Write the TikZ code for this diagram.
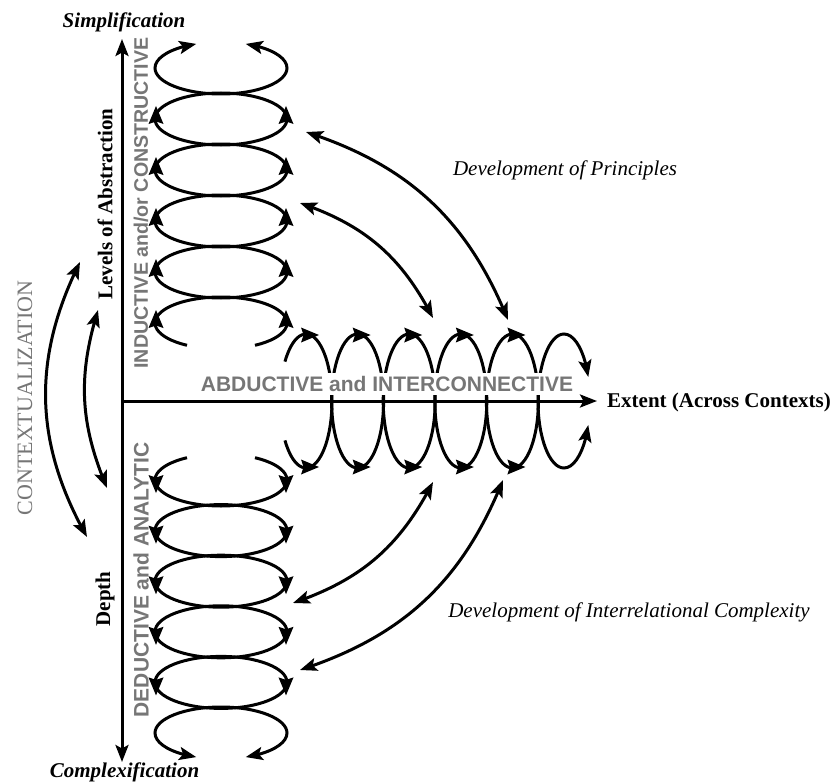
\documentclass[tikz,border=0pt]{standalone}
\usepackage{fontspec}
\setmainfont{Liberation Serif}
\setsansfont{Liberation Sans}
\usetikzlibrary{arrows.meta,bending,calc}
\definecolor{labelgray}{RGB}{118,118,118}

% one arc of an elliptic loop: centre x, centre y, x radius, y radius, start, end, options
\newcommand\spiralarc[7]{%
  \draw[spir,#7] ($(#1,#2)+(#5:#3 and #4)$)
    arc[start angle=#5,end angle=#6,x radius=#3,y radius=#4];}

\begin{document}
\begin{tikzpicture}[x=1pt,y=-1pt,
  >={Stealth[length=17pt,width=13pt,inset=3.5pt]},
  font=\fontsize{21}{25}\selectfont,
  spir/.style={line width=3pt},
  tipup/.pic={\fill (0pt,13pt) -- (7.5pt,-5pt) -- (0pt,-2.5pt) -- (-7.5pt,-5pt) -- cycle;},
  tipdown/.pic={\fill (0pt,-13pt) -- (7.5pt,5pt) -- (0pt,2.5pt) -- (-7.5pt,5pt) -- cycle;},
  tipright/.pic={\fill (13pt,0pt) -- (-5pt,7.5pt) -- (-2.5pt,0pt) -- (-5pt,-7.5pt) -- cycle;},
  axisline/.style={line width=3pt},
  swing/.style={line width=3pt,<->},
  axislabel/.style={font=\fontsize{21}{25}\selectfont\bfseries},
  grayserif/.style={text=labelgray,font=\fontsize{22}{26}\selectfont},
  graysans/.style={text=labelgray,font=\fontsize{21}{25}\selectfont\sffamily\bfseries},
  devlabel/.style={font=\fontsize{21}{25}\selectfont\itshape},
]
\useasboundingbox (0,0) rectangle (836,784);

% axes
\coordinate (O) at (122,401);
\coordinate (ytop) at (122,39);
\coordinate (ybot) at (122,762);
\coordinate (xend) at (597,401);
\draw[axisline,<->] (ybot) -- (ytop);
\draw[axisline,->] (O) -- (xend);

% upper spiral (rising)
\spiralarc{221}{68}{66}{26}{90}{248}{->}
\spiralarc{221}{68}{66}{26}{90}{-68}{->}
\foreach \cy in {119,170,221,272}{
  \spiralarc{221}{\cy}{66}{26}{90}{270}{}
  \spiralarc{221}{\cy}{66}{26}{90}{-90}{}
}
\spiralarc{221}{323}{66}{26}{121}{270}{}
\spiralarc{221}{323}{66}{26}{59}{-90}{}
\foreach \cy in {119,170,221,272,323}{
  \pic at (156,\cy) {tipup};
  \pic at (286,\cy) {tipup};
}

% lower spiral (descending)
\spiralarc{221}{480}{66}{26}{239}{90}{}
\spiralarc{221}{480}{66}{26}{-59}{90}{}
\foreach \cy in {530.6,581.2,631.8,682.4}{
  \spiralarc{221}{\cy}{66}{26}{270}{90}{}
  \spiralarc{221}{\cy}{66}{26}{-90}{90}{}
}
\spiralarc{221}{733}{66}{26}{270}{112}{->}
\spiralarc{221}{733}{66}{26}{-90}{68}{->}
\foreach \cy in {480,530.6,581.2,631.8,682.4}{
  \pic at (156,\cy) {tipdown};
  \pic at (286,\cy) {tipdown};
}

% horizontal spiral (spreading)
\spiralarc{306}{401}{26}{67}{216}{360}{}
\spiralarc{306}{401}{26}{67}{144}{0}{}
\foreach \cx in {357.6,409.2,460.8,512.4}{
  \spiralarc{\cx}{401}{26}{67}{180}{360}{}
  \spiralarc{\cx}{401}{26}{67}{180}{0}{}
}
\spiralarc{564}{401}{26}{67}{180}{339}{->}
\spiralarc{564}{401}{26}{67}{180}{21}{->}
\foreach \cx in {306,357.6,409.2,460.8,512.4}{
  \pic at (\cx,335) {tipright};
  \pic at (\cx,467) {tipright};
}

% contextualization swings
\coordinate (ca1) at (80,262);  \coordinate (cb1) at (87,537);
\coordinate (ca2) at (98,310);  \coordinate (cb2) at (107,488);
\draw[swing] (ca1) to[bend right=28] (cb1);
\draw[swing] (ca2) to[bend right=20] (cb2);

% principles swings
\coordinate (ua1) at (306,132); \coordinate (ub1) at (508,320);
\coordinate (ua2) at (300,203); \coordinate (ub2) at (433,318);
\draw[swing] (ua1) to[bend left=25] (ub1);
\draw[swing] (ua2) to[bend left=22] (ub2);

% interrelational swings
\coordinate (la1) at (503,480); \coordinate (lb1) at (300,670);
\coordinate (la2) at (433,482); \coordinate (lb2) at (293,603);
\draw[swing] (la1) to[bend left=25] (lb1);
\draw[swing] (la2) to[bend left=22] (lb2);

% labels
\node[anchor=base,font=\fontsize{21}{25}\selectfont\bfseries\itshape] (simp) at (124,28) {Simplification};
\node[anchor=base,font=\fontsize{21}{25}\selectfont\bfseries\itshape] (compl) at (124.5,777) {Complexification};
\node[anchor=base west,axislabel,inner sep=0pt] (extent) at (607,407) {Extent (Across Contexts)};
\node[axislabel,rotate=90] (levels) at (105,204) {Levels of Abstraction};
\node[axislabel,rotate=90] (depth) at (105,599) {Depth};
\node[graysans,rotate=90,font=\fontsize{19.6}{24}\selectfont\sffamily\bfseries] (induct) at (141,203) {INDUCTIVE and/or CONSTRUCTIVE};
\node[graysans,rotate=90] (deduct) at (141,580) {DEDUCTIVE and ANALYTIC};
\node[grayserif,rotate=90] (context) at (25,398) {CONTEXTUALIZATION};
\node[graysans,fill=white,inner xsep=1pt,inner ysep=3pt] (abduct) at (387,384) {ABDUCTIVE and INTERCONNECTIVE};
\node[devlabel] (devprin) at (565,170) {Development of Principles};
\node[devlabel] (devint) at (629,612) {Development of Interrelational Complexity};
\end{tikzpicture}
\end{document}
